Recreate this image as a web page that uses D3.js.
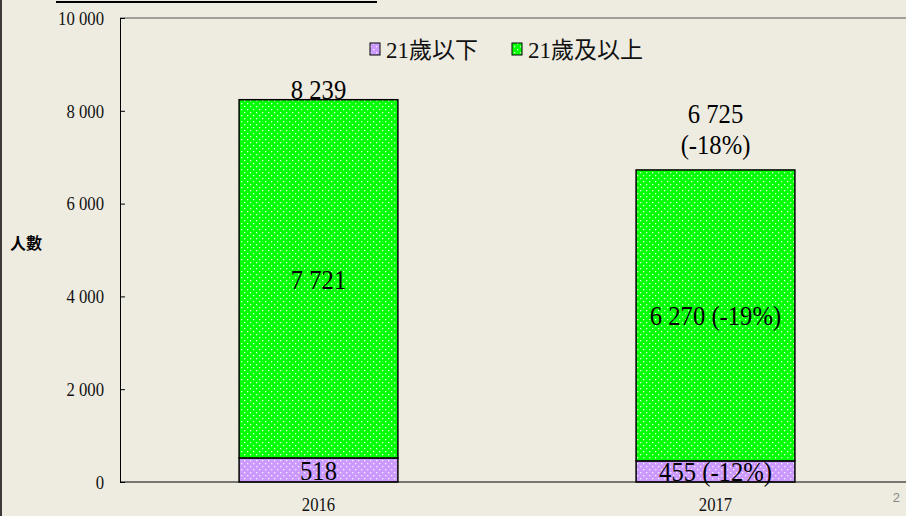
<!DOCTYPE html>
<html><head><meta charset="utf-8">
<script src="https://cdn.jsdelivr.net/npm/d3@7"></script>
<style>
html,body{margin:0;padding:0;background:#EEECE1;}
svg{display:block;}
</style></head>
<body>
<svg id="chart" width="906" height="516"></svg>
<script>
const categories = ["2016", "2017"];
const under21 = [518, 455];
const over21 = [7721, 6270];
const totals = [8239, 6725];
const under21Change = ["", "(-12%)"];
const over21Change = ["", "(-19%)"];
const totalChange = ["", "(-18%)"];
const seriesNames = ["21歲以下", "21歲及以上"];
const yTicks = [0, 2000, 4000, 6000, 8000, 10000];

const svg = d3.select("#chart");
const W = 906, H = 516;
const m = {left: 120, right: -8, top: 18, bottom: 34};
const SX = 0.88;
const SERIF = "'Liberation Serif', 'Times New Roman', serif";
const fmt = d3.formatLocale({decimal: ".", thousands: " ", grouping: [3], currency: ["", ""]}).format(",d");

const x = d3.scaleBand().domain(categories).range([m.left, W - m.right]).paddingInner(0.6).paddingOuter(0.3);
const y = d3.scaleLinear().domain([0, 10000]).range([H - m.bottom, m.top]);

const defs = svg.append("defs");
function pat(id, color) {
  const p = defs.append("pattern").attr("id", id).attr("patternUnits", "userSpaceOnUse")
    .attr("width", 6).attr("height", 6);
  p.append("rect").attr("width", 6).attr("height", 6).attr("fill", color);
  p.append("rect").attr("x", 1).attr("y", 1).attr("width", 1.3).attr("height", 1.3).attr("fill", "#ffffff").attr("opacity", 0.85);
  p.append("rect").attr("x", 4).attr("y", 4).attr("width", 1.3).attr("height", 1.3).attr("fill", "#ffffff").attr("opacity", 0.85);
}
pat("pPurple", "#CC99FF");
pat("pGreen", "#00FF00");

// frame decorations
svg.append("line").attr("x1", 1).attr("x2", 1).attr("y1", 0).attr("y2", H).attr("stroke", "#000").attr("stroke-width", 1.5);
svg.append("line").attr("x1", 56).attr("x2", 377).attr("y1", 2).attr("y2", 2).attr("stroke", "#000").attr("stroke-width", 2);

// plot area top border
svg.append("line").attr("x1", m.left).attr("x2", W).attr("y1", y(10000)).attr("y2", y(10000)).attr("stroke", "#555").attr("stroke-width", 1);

// bars
const g = svg.append("g");
categories.forEach((c, i) => {
  g.append("rect").attr("x", x(c)).attr("width", x.bandwidth())
    .attr("y", y(under21[i])).attr("height", y(0) - y(under21[i]))
    .attr("fill", "url(#pPurple)").attr("stroke", "#000").attr("stroke-width", 1.5);
  g.append("rect").attr("x", x(c)).attr("width", x.bandwidth())
    .attr("y", y(under21[i] + over21[i])).attr("height", y(under21[i]) - y(under21[i] + over21[i]))
    .attr("fill", "url(#pGreen)").attr("stroke", "#000").attr("stroke-width", 1.5);
});

// axes
const yAxis = d3.axisLeft(y).tickValues(yTicks).tickFormat(fmt).tickSizeInner(-5).tickSizeOuter(0).tickPadding(16);
const ya = svg.append("g").attr("transform", `translate(${m.left},0)`).call(yAxis);
ya.attr("font-family", null).attr("font-size", null);
ya.selectAll("text").attr("x", 0).attr("dy", "0.33em")
  .attr("transform", `translate(-16,0) scale(${SX},1)`)
  .style("font-family", SERIF).style("font-size", "19px").attr("fill", "#111");
ya.selectAll("line,path").attr("stroke", "#000");

svg.append("line").attr("x1", m.left).attr("x2", W).attr("y1", y(0)).attr("y2", y(0)).attr("stroke", "#000").attr("stroke-width", 1.2);

const xa = svg.append("g").attr("transform", `translate(0,${y(0)})`)
  .call(d3.axisBottom(x).tickSize(0).tickPadding(0));
xa.attr("font-family", null).attr("font-size", null);
xa.select(".domain").remove();
xa.selectAll("text").attr("y", 0).attr("dy", null)
  .attr("transform", `translate(0,29) scale(${SX},1)`)
  .style("font-family", SERIF).style("font-size", "19px").attr("fill", "#111");

// labels
const lab = svg.append("g").style("font-family", SERIF).style("font-size", "28px").attr("text-anchor", "middle").attr("fill", "#000");
function label(cx, by, t) {
  lab.append("text").attr("transform", `translate(${cx},${by}) scale(${SX},1)`).text(t);
}
categories.forEach((c, i) => {
  const cx = x(c) + x.bandwidth() / 2;
  label(cx, (y(0) + y(under21[i])) / 2 + 10,
    fmt(under21[i]) + (under21Change[i] ? " " + under21Change[i] : ""));
  label(cx, (y(under21[i]) + y(totals[i])) / 2 + 10,
    fmt(over21[i]) + (over21Change[i] ? " " + over21Change[i] : ""));
  const top = y(totals[i]);
  if (totalChange[i]) {
    label(cx, top - 47, fmt(totals[i]));
    label(cx, top - 16, totalChange[i]);
  } else {
    label(cx, top - 1, fmt(totals[i]));
  }
});

// legend
const legend = svg.append("g");
const legX = [370, 512];
const legFill = ["url(#pPurple)", "url(#pGreen)"];
seriesNames.forEach((s, i) => {
  legend.append("rect").attr("x", legX[i]).attr("y", 43).attr("width", 10).attr("height", 12)
    .attr("fill", legFill[i]).attr("stroke", "#000").attr("stroke-width", 1);
  legend.append("text").attr("x", legX[i] + 16).attr("y", 58)
    .style("font-family", "'Liberation Serif', 'Noto Sans CJK TC', serif").style("font-size", "23px").attr("fill", "#111").text(s);
});

// y-axis title
svg.append("text").attr("x", 10).attr("y", 249).style("font-family", "'Noto Sans CJK TC', sans-serif").attr("font-weight", "bold")
  .style("font-size", "16px").attr("fill", "#000").text("人數");

// page number
svg.append("text").attr("x", 900).attr("y", 502).attr("text-anchor", "end").style("font-family", "'Liberation Sans', sans-serif")
  .style("font-size", "13px").attr("fill", "#888").text("2");
</script>
</body></html>
